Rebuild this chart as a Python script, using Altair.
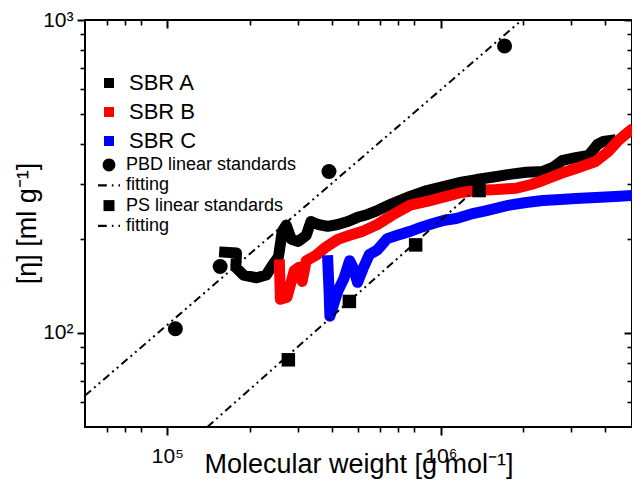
import altair as alt
import pandas as pd

FONT = "Liberation Sans"

# ---------------- data ----------------
x_domain = [5e4, 5e6]
y_domain = [50, 1000]
x_major = [1e5, 1e6]
x_minor = [6e4, 7e4, 8e4, 2e5, 3e5, 4e5, 5e5, 6e5, 7e5, 8e5, 2e6, 3e6, 4e6]
y_major = [100, 1000]
y_minor = [60, 70, 80, 90, 200, 300, 400, 500, 600, 700, 800, 900]

sbr_names = ["SBR A", "SBR B", "SBR C"]
sbr_colors = ["#000000", "#ff0000", "#0000ff"]

a_mw = [1.62e5, 1.79e5, 1.78e5, 1.90e5, 2.12e5, 2.30e5, 2.44e5, 2.55e5, 2.63e5, 2.72e5,
        2.84e5, 3.01e5, 3.22e5, 3.35e5, 3.56e5, 3.86e5, 4.20e5, 4.57e5, 4.96e5, 5.40e5,
        5.86e5, 6.65e5, 7.72e5, 8.90e5, 1.03e6, 1.19e6, 1.35e6, 1.60e6, 1.78e6, 2.05e6,
        2.36e6, 2.57e6, 2.79e6, 3.11e6, 3.47e6, 3.74e6, 3.93e6, 4.17e6]
a_eta = [181, 180, 162, 153, 150, 153, 166, 175, 211, 221,
         199, 196, 205, 227, 222, 219, 222, 227, 234, 239,
         246, 259, 273, 285, 294, 303, 309, 316, 321, 326,
         328, 338, 356, 363, 369, 400, 409, 412]

b_mw = [2.57e5, 2.59e5, 2.74e5, 2.91e5, 3.03e5, 3.11e5, 3.22e5, 3.50e5, 3.80e5, 4.20e5,
        4.64e5, 5.17e5, 5.86e5, 6.65e5, 7.72e5, 8.90e5, 1.03e6, 1.19e6, 1.35e6, 1.60e6,
        1.89e6, 2.14e6, 2.36e6, 2.74e6, 3.11e6, 3.68e6, 4.10e6, 4.42e6, 4.72e6, 4.88e6]
b_eta = [165, 128, 130, 158, 162, 146, 170, 177, 188, 199,
         205, 211, 222, 238, 256, 263, 272, 281, 285, 287,
         290, 298, 307, 323, 335, 353, 380, 409, 430, 440]

c_mw = [3.86e5, 3.90e5, 3.93e5, 4.20e5, 4.42e5, 4.64e5, 4.80e5, 4.96e5, 5.22e5, 5.48e5,
        5.86e5, 6.37e5, 6.93e5, 7.72e5, 8.54e5, 9.43e5, 1.03e6, 1.14e6, 1.32e6, 1.47e6,
        1.78e6, 2.05e6, 2.36e6, 2.74e6, 3.11e6, 3.68e6, 4.34e6, 5.0e6]
c_eta = [170, 138, 113, 136, 149, 170, 160, 145, 162, 178,
         184, 200, 205, 211, 218, 224, 229, 232, 241, 246,
         256, 261, 265, 267, 269, 271, 273, 275]

pbd_mw = [1.07e5, 1.56e5, 3.9e5, 1.71e6]
pbd_eta = [103, 163, 328, 826]
pbd_fit_mw = [5e4, 2e6]
pbd_fit_eta = [63, 1008]

ps_mw = [2.77e5, 4.63e5, 8.09e5, 1.38e6]
ps_eta = [82, 126, 191, 285]
ps_fit_mw = [1.4e5, 1.3e6]
ps_fit_eta = [50, 281]

std_names = ["PBD linear standards", "fitting", "PS linear standards", "fitting "]

# ---------------- styling helpers ----------------
CIRCLE = "M0.58,0A0.58,0.58,0,1,1,-0.58,0A0.58,0.58,0,1,1,0.58,0Z"
SQUARE = "M-0.5,-0.5H0.5V0.5H-0.5Z"
DASHDOT = ("M-1,-0.1H-0.2V0.1H-1Z M0.26,-0.1H0.4V0.1H0.26Z "
           "M0.86,-0.1H1V0.1H0.86Z")
std_shapes = [CIRCLE, DASHDOT, SQUARE, DASHDOT]

xscale = alt.Scale(type="log", domain=x_domain, nice=False, zero=False)
yscale = alt.Scale(type="log", domain=y_domain, nice=False, zero=False)

common = dict(grid=False, domain=False, tickColor="black")

x_bottom_major = alt.Axis(
    orient="bottom", values=x_major, tickSize=8, tickWidth=2,
    labelExpr="datum.value >= 1e6 ? '10⁶' : '10⁵'",
    labelFont=FONT, labelFontSize=21, labelColor="black", labelPadding=10,
    labelFlush=False, labelOverlap=False,
    title="Molecular weight [g mol⁻¹]", titleFont=FONT, titleFontSize=27,
    titleFontWeight="normal", titleColor="black", titleY=45,
    titleBaseline="alphabetic", **common)
x_bottom_minor = alt.Axis(orient="bottom", values=x_minor, tickSize=5,
                          tickWidth=1.6, labels=False, title=None, **common)
x_top_major = alt.Axis(orient="top", values=x_major, tickSize=8, tickWidth=2,
                       offset=-8, labels=False, title=None, **common)
x_top_minor = alt.Axis(orient="top", values=x_minor, tickSize=5, tickWidth=1.6,
                       offset=-5, labels=False, title=None, **common)

y_left_major = alt.Axis(
    orient="left", values=y_major, tickSize=8, tickWidth=2,
    labelExpr="datum.value >= 1000 ? '10³' : '10²'",
    labelFont=FONT, labelFontSize=21, labelColor="black", labelPadding=4,
    labelFlush=False, labelOverlap=False,
    title="[η] [ml g⁻¹]", titleFont=FONT, titleFontSize=27,
    titleFontWeight="normal", titleColor="black", titleX=-50, titleY=203,
    titleBaseline="alphabetic", **common)
y_left_minor = alt.Axis(orient="left", values=y_minor, tickSize=5,
                        tickWidth=1.6, labels=False, title=None, **common)
y_right_major = alt.Axis(orient="right", values=y_major, tickSize=8,
                         tickWidth=2, offset=-8, labels=False, title=None, **common)
y_right_minor = alt.Axis(orient="right", values=y_minor, tickSize=5,
                         tickWidth=1.6, offset=-5, labels=False, title=None, **common)


def curve(mw, eta, color, xax, yax):
    df = pd.DataFrame({"i": list(range(len(mw))), "mw": mw, "eta": eta})
    return alt.Chart(df).mark_line(
        color=color, strokeWidth=11, strokeCap="square", strokeJoin="round",
        clip=True
    ).encode(
        x=alt.X("mw:Q", scale=xscale, axis=xax),
        y=alt.Y("eta:Q", scale=yscale, axis=yax),
        order=alt.Order("i:Q"),
    )


def fit(mw, eta, xax=None, yax=None):
    df = pd.DataFrame({"mw": mw, "eta": eta})
    return alt.Chart(df).mark_line(
        color="black", strokeWidth=2, strokeDash=[8, 4, 2, 4, 2, 4], clip=True
    ).encode(
        x=alt.X("mw:Q", scale=xscale, axis=xax),
        y=alt.Y("eta:Q", scale=yscale, axis=yax),
    )


layer_a = curve(a_mw, a_eta, sbr_colors[0], x_bottom_major, y_left_major)
layer_b = curve(b_mw, b_eta, sbr_colors[1], x_bottom_minor, y_left_minor)
layer_c = curve(c_mw, c_eta, sbr_colors[2], x_top_major, y_right_major)
layer_pbd_fit = fit(pbd_fit_mw, pbd_fit_eta, x_top_minor, y_right_minor)
layer_ps_fit = fit(ps_fit_mw, ps_fit_eta)

pbd_df = pd.DataFrame({"mw": pbd_mw, "eta": pbd_eta})
layer_pbd = alt.Chart(pbd_df).mark_point(
    shape="circle", filled=True, size=225, color="black", opacity=1, clip=True
).encode(
    x=alt.X("mw:Q", scale=xscale, axis=None),
    y=alt.Y("eta:Q", scale=yscale, axis=None),
)

ps_df = pd.DataFrame({"mw": ps_mw, "eta": ps_eta})
layer_ps = alt.Chart(ps_df).mark_square(
    size=182, color="black", opacity=1, clip=True
).encode(
    x=alt.X("mw:Q", scale=xscale, axis=None),
    y=alt.Y("eta:Q", scale=yscale, axis=None),
)

leg_sbr = alt.Chart(pd.DataFrame({"series": sbr_names})).mark_square(
    size=100, opacity=1
).encode(
    color=alt.Color("series:N",
                    scale=alt.Scale(domain=sbr_names, range=sbr_colors),
                    legend=alt.Legend(orient="none", legendX=13, legendY=52,
                                      title=None, symbolSize=100,
                                      symbolType="square",
                                      labelFont=FONT, labelFontSize=22,
                                      labelColor="black", labelOffset=9,
                                      rowPadding=7, padding=0, labelLimit=400,
                                      symbolStrokeWidth=0))
).transform_filter("false")

leg_std = alt.Chart(pd.DataFrame({"name": std_names})).mark_point(
    filled=True, size=484, color="black", opacity=1
).encode(
    shape=alt.Shape("name:N",
                    scale=alt.Scale(domain=std_names, range=std_shapes),
                    legend=alt.Legend(orient="none", legendX=13, legendY=134,
                                      title=None, symbolSize=484,
                                      symbolFillColor="black",
                                      labelFont=FONT, labelFontSize=18,
                                      labelColor="black", labelOffset=6,
                                      rowPadding=0.3, padding=0, labelLimit=400,
                                      symbolStrokeWidth=0))
).transform_filter("false")

chart = alt.layer(
    layer_a, layer_b, layer_c, layer_pbd_fit, layer_ps_fit, layer_pbd, layer_ps,
    leg_sbr, leg_std
).resolve_axis(
    x="independent", y="independent"
).resolve_scale(
    x="shared", y="shared"
).properties(
    width=547, height=407,
    autosize=alt.AutoSizeParams(type="none"),
    padding={"left": 77, "top": 12, "right": 0, "bottom": 52},
).configure_view(
    stroke="black", strokeWidth=2
)

chart.save("out.html", embed_options={"renderer": "svg", "actions": False})
